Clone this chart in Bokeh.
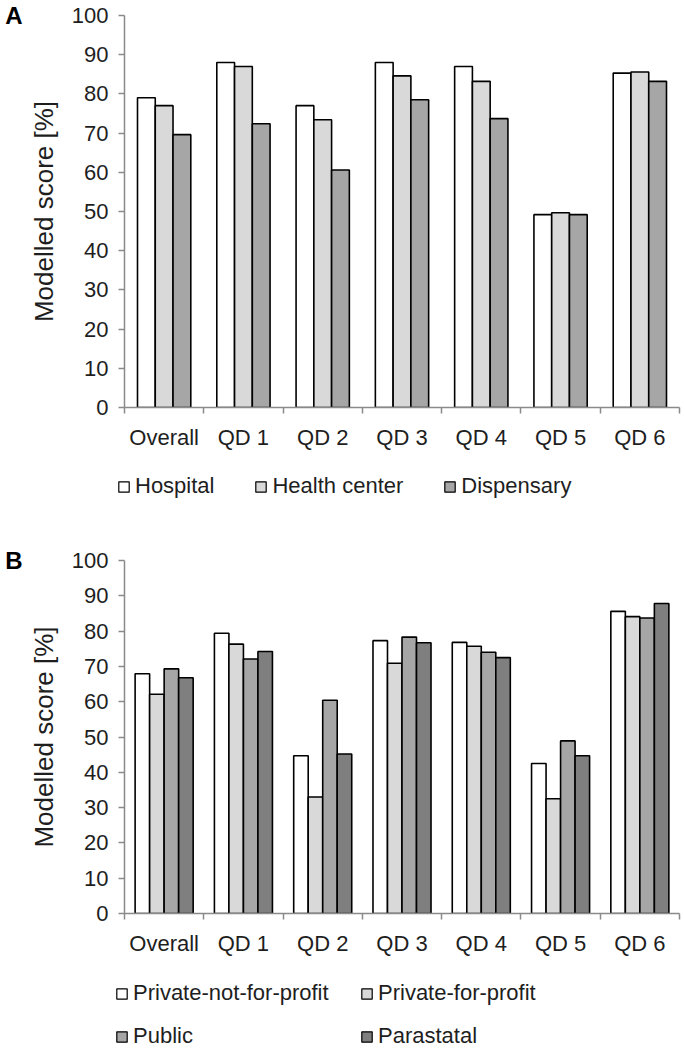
from bokeh.plotting import figure
from bokeh.models import (ColumnDataSource, Range1d, FixedTicker, Legend, LegendItem,
                          LinearAxis)
from bokeh.layouts import column, row
from bokeh.transform import dodge
from bokeh.embed import file_html
from bokeh.resources import INLINE

# ---------------- data ----------------
categories = ["Overall", "QD 1", "QD 2", "QD 3", "QD 4", "QD 5", "QD 6"]
y_ticks = [0, 10, 20, 30, 40, 50, 60, 70, 80, 90, 100]

facility_types = ["Hospital", "Health center", "Dispensary"]
hospital = [79.0, 88.0, 77.0, 88.0, 87.0, 49.2, 85.3]
health_center = [77.0, 87.0, 73.4, 84.6, 83.2, 49.7, 85.6]
dispensary = [69.6, 72.4, 60.6, 78.5, 73.7, 49.2, 83.2]

ownership_types = ["Private-not-for-profit", "Private-for-profit", "Public", "Parastatal"]
private_not_for_profit = [67.9, 79.4, 44.7, 77.3, 76.8, 42.5, 85.6]
private_for_profit = [62.1, 76.3, 33.0, 70.9, 75.7, 32.5, 84.1]
public = [69.3, 72.1, 60.4, 78.3, 74.0, 48.9, 83.7]
parastatal = [66.8, 74.2, 45.2, 76.7, 72.5, 44.7, 87.8]

colors_a = ["#ffffff", "#d9d9d9", "#a6a6a6"]
colors_b = ["#ffffff", "#d9d9d9", "#a6a6a6", "#7f7f7f"]

FONT = "Liberation Sans"
TEXT = "#1e1e1e"
AXIS = "#8a8a8a"
W = 685
LEFT = 124
RIGHT = 6


def source_for(values):
    n_cat = len(categories)
    data = {"x": [i + 0.5 for i in range(n_cat)]}
    for k, v in enumerate(values):
        data["s%d" % k] = v
    return ColumnDataSource(data)


def make_chart(letter, values, colors, bar_w, top, frame_h, bottom):
    n_cat = len(categories)
    centers = [i + 0.5 for i in range(n_cat)]
    bounds = list(range(n_cat + 1))
    src = source_for(values)

    p = figure(width=W, height=top + frame_h + bottom, x_range=Range1d(0, n_cat),
               y_range=Range1d(0, 100), output_backend="svg", toolbar_location=None,
               min_border_left=LEFT, min_border_right=RIGHT, min_border_top=top,
               min_border_bottom=bottom)
    p.outline_line_color = None
    p.xgrid.visible = False
    p.ygrid.visible = False
    p.background_fill_color = "white"
    p.border_fill_color = "white"

    m = len(values)
    for k in range(m):
        off = (k - (m - 1) / 2.0) * bar_w
        p.vbar(x=dodge("x", off), top="s%d" % k, width=bar_w, bottom=0, source=src,
               fill_color=colors[k], line_color="black", line_width=1.6)

    xa = p.xaxis[0]
    xa.ticker = FixedTicker(ticks=centers, minor_ticks=bounds)
    xa.major_label_overrides = {c: lab for c, lab in zip(centers, categories)}
    xa.major_tick_out = 0
    xa.major_tick_in = 0
    xa.minor_tick_out = 6
    xa.minor_tick_in = 0
    xa.minor_tick_line_color = AXIS
    xa.minor_tick_line_width = 1.5
    xa.axis_line_color = AXIS
    xa.axis_line_width = 1.5
    xa.major_label_standoff = 11
    xa.major_label_text_font = FONT
    xa.major_label_text_font_size = "22px"
    xa.major_label_text_color = TEXT

    ya = p.yaxis[0]
    ya.ticker = FixedTicker(ticks=y_ticks, minor_ticks=[])
    ya.major_tick_out = 6
    ya.major_tick_in = 0
    ya.major_tick_line_color = AXIS
    ya.major_tick_line_width = 1.5
    ya.axis_line_color = AXIS
    ya.axis_line_width = 1.5
    ya.major_label_standoff = 10
    ya.major_label_text_font = FONT
    ya.major_label_text_font_size = "22px"
    ya.major_label_text_color = TEXT
    ya.axis_label = "Modelled score [%]"
    ya.axis_label_text_font = FONT
    ya.axis_label_text_font_size = "26px"
    ya.axis_label_text_font_style = "normal"
    ya.axis_label_text_color = TEXT
    ya.axis_label_standoff = 10

    # panel letter, level with the top of the value axis
    la = LinearAxis(ticker=FixedTicker(ticks=[100], minor_ticks=[]),
                    major_label_overrides={100: letter},
                    axis_line_color=None, major_tick_line_color=None,
                    minor_tick_line_color=None, major_tick_out=0, major_tick_in=0,
                    major_label_standoff=3, major_label_text_font=FONT,
                    major_label_text_font_size="24px", major_label_text_font_style="bold",
                    major_label_text_color="black")
    p.add_layout(la, "left")
    return p


def make_legend(names, values, colors, height, specs):
    p = figure(width=W, height=height, x_range=Range1d(0, 1), y_range=Range1d(0, 1),
               output_backend="svg", toolbar_location=None,
               min_border_left=0, min_border_right=0, min_border_top=0,
               min_border_bottom=0, x_axis_location=None, y_axis_location=None)
    p.outline_line_color = None
    p.xgrid.visible = False
    p.ygrid.visible = False
    src = source_for(values)
    rends = []
    for k in range(len(names)):
        rends.append(p.vbar(x="x", top="s%d" % k, width=0.1, bottom=0, source=src,
                            fill_color=colors[k], line_color="black", line_width=1.2,
                            visible=False))
    for idxs, orient, spacing, loc in specs:
        items = [LegendItem(label=names[i], renderers=[rends[i]]) for i in idxs]
        lg = Legend(items=items, orientation=orient, spacing=spacing, location=loc,
                    glyph_width=13, glyph_height=13, label_standoff=5,
                    label_text_font=FONT, label_text_font_size="22px",
                    label_text_color=TEXT, padding=0, margin=0,
                    border_line_color=None, background_fill_alpha=0)
        p.add_layout(lg, "center")
    return p


vals_a = [hospital, health_center, dispensary]
vals_b = [private_not_for_profit, private_for_profit, public, parastatal]

chart_a = make_chart("A", vals_a, colors_a, 0.224, 15, 392, 48)
legend_a = make_legend(facility_types, vals_a, colors_a, 60,
                       [([0, 1, 2], "horizontal", 40, (117, 16))])
chart_b = make_chart("B", vals_b, colors_b, 0.183, 45, 353, 52)
legend_b = make_legend(ownership_types, vals_b, colors_b, 84,
                       [([0, 2], "vertical", 17, (115, 0)),
                        ([1, 3], "vertical", 17, (360, 0))])

layout = column(chart_a, row(legend_a), chart_b, row(legend_b), spacing=0)
open("out.html", "w").write(file_html(layout, INLINE))
